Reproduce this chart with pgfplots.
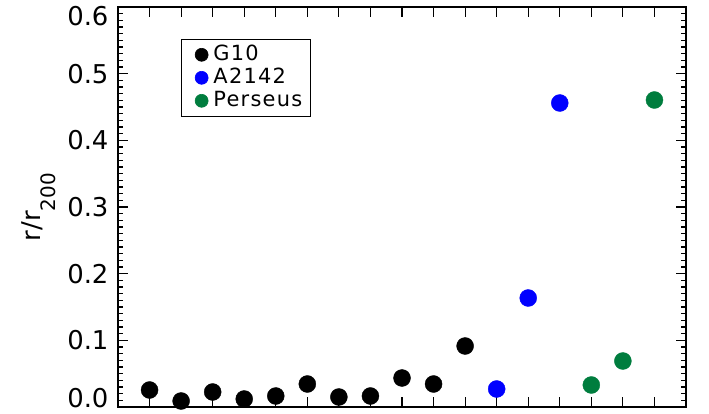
\documentclass[border=0pt]{standalone}
\usepackage{pgfplots}
\pgfplotsset{compat=1.18}
\usepackage{fontspec}
\setmainfont{DejaVu Sans}
\definecolor{pgreen}{RGB}{0,125,62}
\begin{document}
\begin{tikzpicture}
\begin{axis}[
  scale only axis,
  width=568bp, height=400bp,
  xmin=0, xmax=18, ymin=0, ymax=0.6,
  xtick={1,...,17}, xticklabels={},
  ytick={0,0.1,...,0.6},
  minor y tick num=9,
  major tick length=10bp, minor tick length=5bp,
  tick align=inside,
  axis line style={line width=1.5bp},
  tick style={line width=1.2bp, black},
  /pgf/number format/assume math mode=true,
  /pgf/number format/fixed, /pgf/number format/fixed zerofill, /pgf/number format/precision=1,
  yticklabel style={xshift=-6bp, yshift={9*(\tick<0.05)-9*(\tick>0.55)}},
  tick label style={font=\fontsize{26}{30}\selectfont},
  ylabel={r/r\raisebox{-15bp}{\fontsize{20}{20}\selectfont 200}},
  every axis y label/.style={at={(axis description cs:-0.139,0.5)}, rotate=90, anchor=center,
    font=\fontsize{26}{30}\selectfont},
  legend style={at={(0.111,0.92)}, anchor=north west, draw=black, line width=0.6bp,
    font=\fontsize{21}{21}\selectfont\addfontfeatures{LetterSpace=6},
    row sep=4bp, column sep=5bp, inner xsep=8bp, inner ysep=6bp,
    nodes={inner sep=0bp, text height=15bp, text depth=4bp},
    legend cell align=left},
  legend image code/.code={\path (0bp,0bp); \fill[#1] (12bp,0bp) circle (6.5bp);},
]
\addplot[only marks, mark=*, mark size=8.5bp, black] coordinates {
 (1,0.0255) (2,0.009) (3,0.0225) (4,0.012) (5,0.0165) (6,0.0345)
 (7,0.015) (8,0.0165) (9,0.0435) (10,0.0345) (11,0.0915)};
\addlegendentry{G10}
\addplot[only marks, mark=*, mark size=8.5bp, blue] coordinates {
 (12,0.027) (13,0.1635) (14,0.456)};
\addlegendentry{A2142}
\addplot[only marks, mark=*, mark size=8.5bp, pgreen] coordinates {
 (15,0.033) (16,0.069) (17,0.4605)};
\addlegendentry{Perseus}
\end{axis}
\path ([xshift=-118bp,yshift=-7bp]current axis.south west) rectangle ([xshift=23bp,yshift=7bp]current axis.north east);
\end{tikzpicture}
\end{document}
